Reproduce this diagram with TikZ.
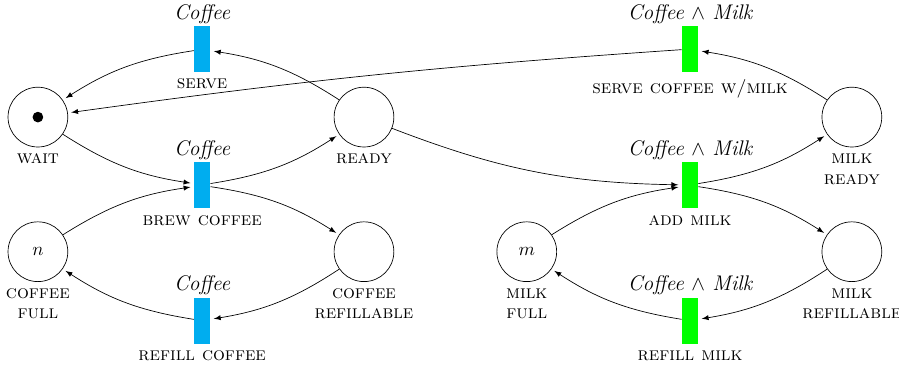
\documentclass[11pt,tikz,border=0pt]{standalone}
\usetikzlibrary{arrows}

\begin{document}
\begin{tikzpicture}[>=latex, line width=0.4pt,
		place/.style={circle,draw,minimum size=1.23cm,inner sep=0pt},
		trans/.style={rectangle,inner sep=0pt,minimum width=0.33cm,minimum height=0.95cm},
		coffeetr/.style={trans,fill=cyan},
		milktr/.style={trans,fill=green},
		lbl/.style={label={[align=center,font=\fontsize{10.95}{12}\selectfont\scshape]below:#1}},
		guard/.style={label={[font=\fontsize{12.4}{14}\selectfont\itshape,label distance=-2.5pt]above:#1}},
		arc/.style={->,shorten >=2pt}]
	\useasboundingbox (0,0) rectangle (18.5,7.51);
	% places
	\node[place,lbl={wait}] (wait) at (0.78,5.10) {};
	\node[fill,circle,inner sep=0pt,minimum size=0.22cm] (token) at (wait) {};
	\node[place,lbl={ready}] (ready) at (7.49,5.10) {};
	\node[place,lbl={coffee\\full}] (cfull) at (0.78,2.33) {$n$};
	\node[place,lbl={coffee\\refillable}] (crefill) at (7.49,2.33) {};
	\node[place,lbl={milk\\full}] (mfull) at (10.84,2.33) {$m$};
	\node[place,lbl={milk\\ready}] (mready) at (17.53,5.10) {};
	\node[place,lbl={milk\\refillable}] (mrefill) at (17.53,2.33) {};
	% transitions
	\node[coffeetr,guard={Coffee},lbl={serve}] (serve) at (4.16,6.50) {};
	\node[coffeetr,guard={Coffee},lbl={brew coffee}] (brew) at (4.16,3.70) {};
	\node[coffeetr,guard={Coffee},lbl={refill coffee}] (crefilltr) at (4.16,0.905) {};
	\node[milktr,guard={Coffee $\wedge$ Milk},lbl={serve coffee w/milk}] (servemilk) at (14.20,6.50) {};
	\node[milktr,guard={Coffee $\wedge$ Milk},lbl={add milk}] (addmilk) at (14.20,3.70) {};
	\node[milktr,guard={Coffee $\wedge$ Milk},lbl={refill milk}] (mrefilltr) at (14.20,0.905) {};
	% arcs
	\draw[arc] (wait) to[bend right=12] (brew);
	\draw[arc] (brew) to[bend right=12] (ready);
	\draw[arc] (ready) to[bend right=12] (serve);
	\draw[arc] (serve) to[bend right=12] (wait);
	\draw[arc] (cfull) to[bend left=12] (brew);
	\draw[arc] (brew) to[bend left=12] (crefill);
	\draw[arc] (crefill) to[bend left=12] (crefilltr);
	\draw[arc] (crefilltr) to[bend left=12] (cfull);
	\draw[arc] (ready) to[bend right=10] (addmilk);
	\draw[arc] (addmilk) to[bend right=12] (mready);
	\draw[arc] (mready) to[bend right=12] (servemilk);
	\draw[arc] (servemilk) to[bend right=2] (wait);
	\draw[arc] (mfull) to[bend left=12] (addmilk);
	\draw[arc] (addmilk) to[bend left=12] (mrefill);
	\draw[arc] (mrefill) to[bend left=12] (mrefilltr);
	\draw[arc] (mrefilltr) to[bend left=12] (mfull);
\end{tikzpicture}
\end{document}
